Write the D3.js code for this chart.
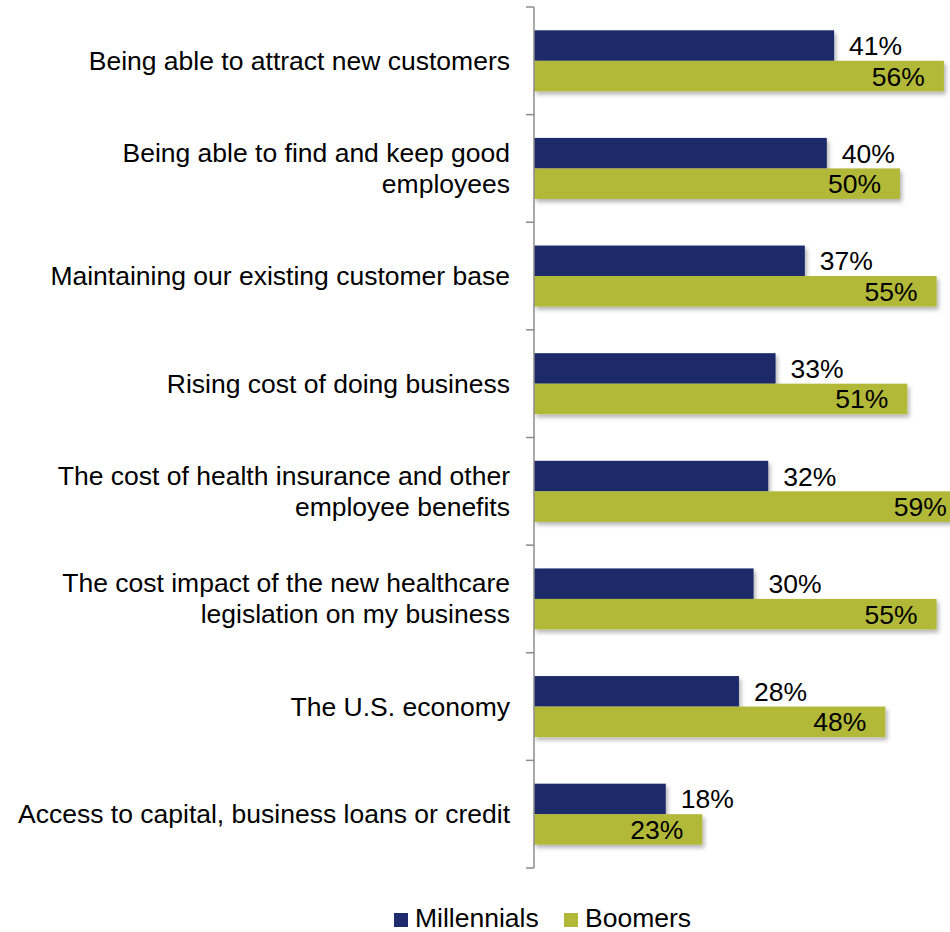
<!DOCTYPE html>
<html>
<head>
<meta charset="utf-8">
<script src="https://cdn.jsdelivr.net/npm/d3@7"></script>
<style>
  html, body { margin: 0; padding: 0; background: #fff; }
  svg { display: block; font-family: Arial, "Liberation Sans", sans-serif; }
</style>
</head>
<body>
<svg id="chart" width="950" height="932"></svg>
<script>
// Survey concerns, top to bottom
const categories = [
  "Being able to attract new customers",
  "Being able to find and keep good\nemployees",
  "Maintaining our existing customer base",
  "Rising cost of doing business",
  "The cost of health insurance and other\nemployee benefits",
  "The cost impact of the new healthcare\nlegislation on my business",
  "The U.S. economy",
  "Access to capital, business loans or credit"
];
const seriesNames = ["Millennials", "Boomers"];
const millennials = [41, 40, 37, 33, 32, 30, 28, 18];
const boomers = [56, 50, 55, 51, 59, 55, 48, 23];
const colors = ["#1F2B6B", "#B2B938"];

const svg = d3.select("#chart");
const fontSize = 26.5;

const defs = svg.append("defs");
const shadow = defs.append("filter").attr("id", "barShadow")
  .attr("x", "-5%").attr("y", "-20%").attr("width", "115%").attr("height", "150%");
shadow.append("feDropShadow")
  .attr("dx", 2).attr("dy", 3).attr("stdDeviation", 2)
  .attr("flood-color", "#000").attr("flood-opacity", 0.3);

const axisX = 534;
const x = d3.scaleLinear().domain([0, 60]).range([axisX, axisX + 60 * 7.32]);
const y = d3.scaleBand().domain(categories).range([7, 868]).padding(0);
const inner = d3.scaleBand().domain(seriesNames).range([0, y.bandwidth()])
  .paddingInner(0).paddingOuter(0.764);

const rows = categories.map((c, i) => ({ cat: c, values: [millennials[i], boomers[i]] }));

// Bars
const groups = svg.append("g").selectAll("g.row").data(rows).join("g")
  .attr("class", "row")
  .attr("transform", d => `translate(0,${y(d.cat)})`);

groups.selectAll("rect").data(d => d.values.map((v, j) => ({ v, s: seriesNames[j], j })))
  .join("rect")
  .attr("x", x(0))
  .attr("y", d => inner(d.s))
  .attr("width", d => x(d.v) - x(0))
  .attr("height", inner.bandwidth())
  .attr("fill", d => colors[d.j])
  .attr("filter", "url(#barShadow)");

// Value labels: Millennials outside the bar end, Boomers inside the bar end
groups.selectAll("text.val").data(d => d.values.map((v, j) => ({ v, s: seriesNames[j], j })))
  .join("text")
  .attr("class", "val")
  .attr("x", d => d.j === 0 ? x(d.v) + 15 : x(d.v) - 19)
  .attr("y", d => inner(d.s) + inner.bandwidth() / 2 + 9.5)
  .attr("text-anchor", d => d.j === 0 ? "start" : "end")
  .attr("font-size", fontSize)
  .attr("fill", "#000")
  .text(d => d.v + "%");

// Category axis with ticks at band boundaries
const axisG = svg.append("g");
axisG.append("line")
  .attr("x1", axisX).attr("x2", axisX)
  .attr("y1", y.range()[0]).attr("y2", y.range()[1])
  .attr("stroke", "#8c8c8c").attr("stroke-width", 1.5);
const boundaries = categories.map(c => y(c)).concat([y.range()[1]]);
axisG.selectAll("line.tick").data(boundaries).join("line")
  .attr("class", "tick")
  .attr("x1", axisX - 8).attr("x2", axisX)
  .attr("y1", d => d).attr("y2", d => d)
  .attr("stroke", "#8c8c8c").attr("stroke-width", 1.5);

// Category labels
const lineH = 31;
const labels = svg.append("g").selectAll("text.cat").data(categories).join("text")
  .attr("class", "cat")
  .attr("text-anchor", "end")
  .attr("font-size", fontSize)
  .attr("fill", "#000");
labels.each(function(c) {
  const lines = c.split("\n");
  const cy = y(c) + y.bandwidth() / 2;
  const top = cy - (lines.length - 1) * lineH / 2 + 9;
  d3.select(this).selectAll("tspan").data(lines).join("tspan")
    .attr("x", 510)
    .attr("y", (d, k) => top + k * lineH)
    .text(d => d);
});

// Legend
const legend = svg.append("g");
const legendItems = [{ name: "Millennials", x: 394 }, { name: "Boomers", x: 564 }];
legendItems.forEach((it, j) => {
  legend.append("rect").attr("x", it.x).attr("y", 913).attr("width", 14).attr("height", 14)
    .attr("fill", colors[j]);
  legend.append("text").attr("x", it.x + 21).attr("y", 927)
    .attr("font-size", fontSize).attr("fill", "#000").text(it.name);
});
</script>
</body>
</html>
